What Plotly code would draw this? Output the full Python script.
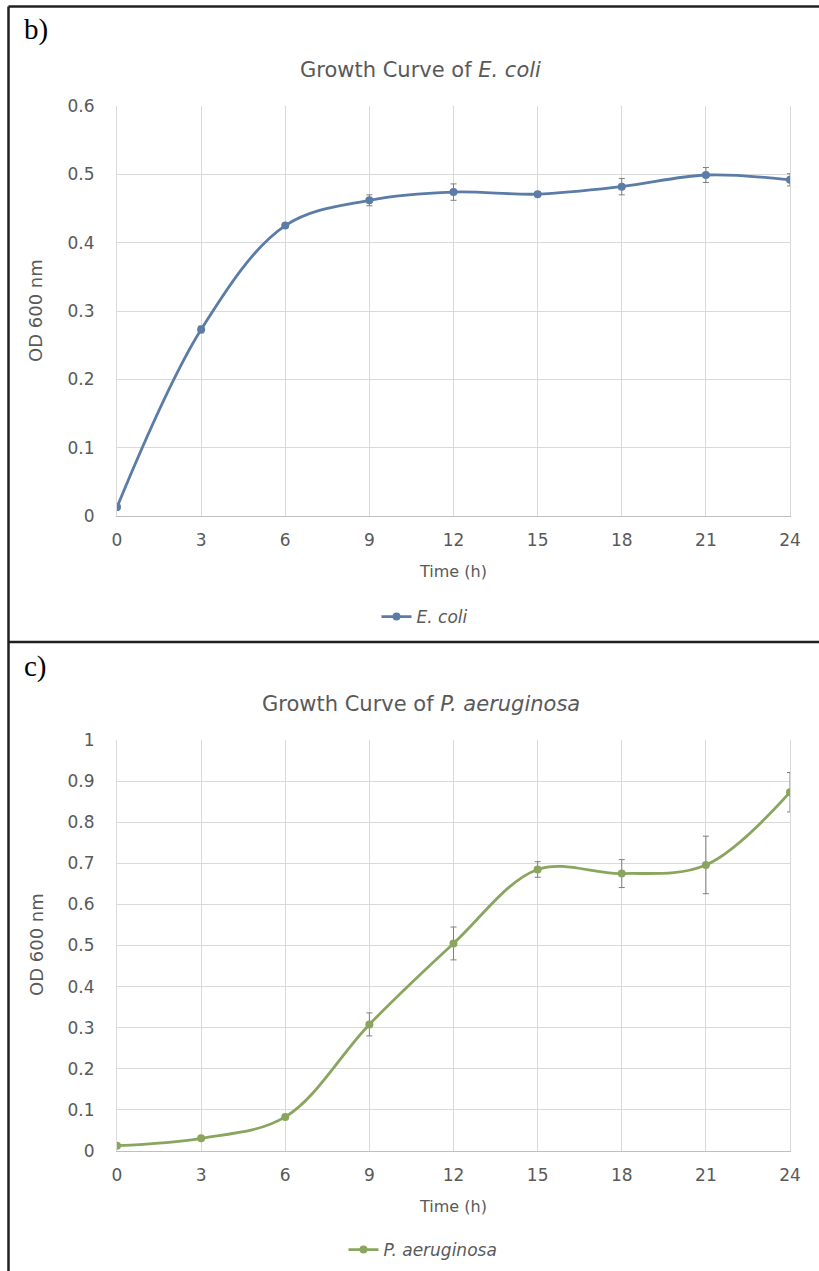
import plotly.graph_objects as go

# Sampling times (h)
time_h = [0, 3, 6, 9, 12, 15, 18, 21, 24]
x_ticks = [0, 3, 6, 9, 12, 15, 18, 21, 24]

# E. coli OD600 means and standard deviations
ecoli_od = [0.013, 0.273, 0.425, 0.462, 0.474, 0.471, 0.482, 0.499, 0.492]
ecoli_sd = [0.0, 0.005, 0.003, 0.008, 0.012, 0.003, 0.012, 0.011, 0.009]

# P. aeruginosa OD600 means and standard deviations
paer_od = [0.013, 0.031, 0.083, 0.308, 0.505, 0.685, 0.675, 0.696, 0.873]
paer_sd = [0.0, 0.002, 0.003, 0.028, 0.040, 0.019, 0.034, 0.070, 0.048]

BLUE = "#5A7CA6"
GREEN = "#8AA55E"
TEXT = "#595959"
GRID = "#D9D9D9"
FONT = "DejaVu Sans"

W, H = 819, 1271


def py(px):
    return 1 - px / H


def px_x(px):
    return px / W


fig = go.Figure()

fig.add_trace(go.Scatter(
    x=time_h, y=ecoli_od, mode="lines+markers", name="<i>E. coli</i>",
    line=dict(color=BLUE, width=2.8, shape="spline", smoothing=1),
    marker=dict(color=BLUE, size=8),
    error_y=dict(type="data", array=ecoli_sd, color="#7F7F7F", thickness=1, width=3),
    xaxis="x", yaxis="y", legend="legend",
))

fig.add_trace(go.Scatter(
    x=time_h, y=paer_od, mode="lines+markers", name="<i>P. aeruginosa</i>",
    line=dict(color=GREEN, width=2.8, shape="spline", smoothing=1),
    marker=dict(color=GREEN, size=8),
    error_y=dict(type="data", array=paer_sd, color="#7F7F7F", thickness=1, width=3),
    xaxis="x2", yaxis="y2", legend="legend2",
))

x_dom = [px_x(117), px_x(790)]
common_x = dict(
    range=[0, 24], tickmode="array", tickvals=x_ticks,
    showgrid=True, gridcolor=GRID, gridwidth=1,
    showline=True, linecolor="#BFBFBF", linewidth=1, mirror=False,
    zeroline=False, ticks="", ticklabelstandoff=9, automargin=False,
    tickfont=dict(family=FONT, size=17, color=TEXT),
)
common_y = dict(
    showgrid=True, gridcolor=GRID, gridwidth=1,
    showline=True, linecolor=GRID, linewidth=1, mirror=True,
    zeroline=False, ticks="", ticklabelstandoff=18, automargin=False,
    tickfont=dict(family=FONT, size=17, color=TEXT),
)

fig.update_layout(
    width=W, height=H,
    margin=dict(l=0, r=0, t=0, b=0, autoexpand=False),
    paper_bgcolor="white", plot_bgcolor="white",
    xaxis=dict(domain=x_dom, anchor="y", **common_x),
    yaxis=dict(domain=[py(516), py(106)], anchor="x", range=[0, 0.6],
               dtick=0.1, tickformat="~g", **common_y),
    xaxis2=dict(domain=x_dom, anchor="y2", **common_x),
    yaxis2=dict(domain=[py(1151), py(740)], anchor="x2", range=[0, 1],
                dtick=0.1, tickformat="~g", **common_y),
    legend=dict(x=px_x(425), y=py(617), xanchor="center", yanchor="middle",
                orientation="h", font=dict(family=FONT, size=17, color=TEXT),
                itemwidth=30, bgcolor="rgba(0,0,0,0)"),
    legend2=dict(x=px_x(423), y=py(1250), xanchor="center", yanchor="middle",
                 orientation="h", font=dict(family=FONT, size=17, color=TEXT),
                 itemwidth=30, bgcolor="rgba(0,0,0,0)"),
    showlegend=True,
)

annotations = [
    # panel labels
    dict(text="b)", x=px_x(22), y=py(30), xanchor="left", yanchor="middle",
         font=dict(family="Liberation Serif", size=29, color="black")),
    dict(text="c)", x=px_x(22), y=py(666), xanchor="left", yanchor="middle",
         font=dict(family="Liberation Serif", size=29, color="black")),
    # chart titles
    dict(text="Growth Curve of <i>E. coli</i>", x=px_x(421), y=py(70),
         xanchor="center", yanchor="middle",
         font=dict(family=FONT, size=21, color=TEXT)),
    dict(text="Growth Curve of <i>P. aeruginosa</i>", x=px_x(421), y=py(704),
         xanchor="center", yanchor="middle",
         font=dict(family=FONT, size=21, color=TEXT)),
    # axis titles
    dict(text="Time (h)", x=px_x(453), y=py(572), xanchor="center", yanchor="middle",
         font=dict(family=FONT, size=16, color=TEXT)),
    dict(text="Time (h)", x=px_x(453), y=py(1206), xanchor="center", yanchor="middle",
         font=dict(family=FONT, size=16, color=TEXT)),
    dict(text="OD 600 nm", x=px_x(36), y=py(311), xanchor="center", yanchor="middle",
         textangle=-90, font=dict(family=FONT, size=18, color=TEXT)),
    dict(text="OD 600 nm", x=px_x(36), y=py(945), xanchor="center", yanchor="middle",
         textangle=-90, font=dict(family=FONT, size=18, color=TEXT)),
]
for a in annotations:
    a.update(xref="paper", yref="paper", showarrow=False)
fig.update_layout(annotations=annotations)

# outer frame and divider between the two panels
frame = dict(type="line", xref="paper", yref="paper",
             line=dict(color="#231F20", width=2.5))
fig.update_layout(shapes=[
    dict(frame, x0=px_x(8.5), x1=1, y0=py(6.5), y1=py(6.5)),
    dict(frame, x0=px_x(8.5), x1=px_x(8.5), y0=py(6.5), y1=0),
    dict(frame, x0=px_x(8.5), x1=1, y0=py(642), y1=py(642)),
])

# drop the page body's default margin so the figure fills the window exactly
page_js = """
document.body.style.margin = '0';
Plotly.relayout(document.getElementById('{plot_id}'), {});
"""
fig.write_html("out.html", post_script=page_js)
